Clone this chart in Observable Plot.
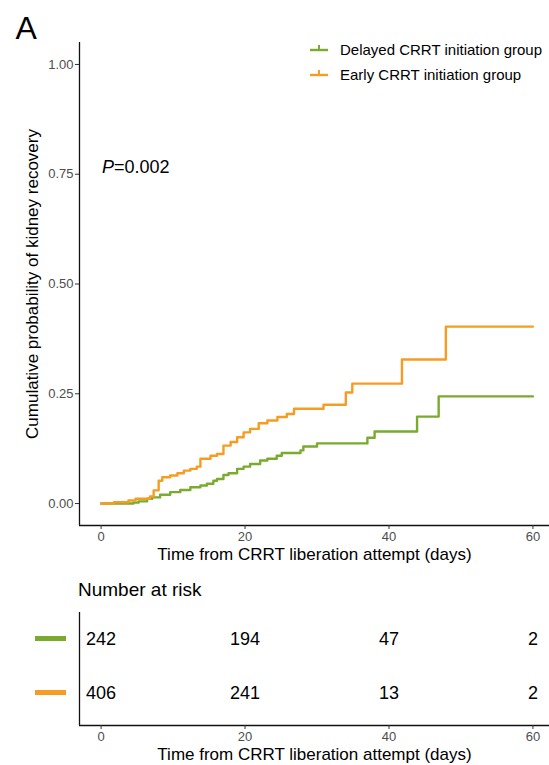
<!DOCTYPE html>
<html><head><meta charset="utf-8">
<script src="https://cdn.jsdelivr.net/npm/d3@7"></script>
<script src="https://cdn.jsdelivr.net/npm/@observablehq/plot@0.6"></script>
<style>
body{margin:0;background:#fff;font-family:"Liberation Sans",Arial,sans-serif;}
#wrap{position:relative;width:549px;height:765px;overflow:hidden;background:#fff;}
.abs{position:absolute;white-space:nowrap;color:#000;}
.leg{display:flex;align-items:center;height:25px;font-size:15px;}
.leg svg{margin-right:11px;}
.strip{position:absolute;width:31px;height:5px;}
</style></head><body><div id="wrap"></div>
<script>
const groups = ["Delayed CRRT initiation group", "Early CRRT initiation group"];
const colors = ["#7aab2f", "#f59d22"];

const delayedTime = [0, 4.5, 5.2, 6.4, 7.1, 8.2, 9.6, 11.0, 12.4, 13.8, 14.7, 15.6, 16.1, 17.0, 17.7, 18.9, 19.8, 20.7, 22.1, 23.1, 24.4, 25.1, 27.7, 28.1, 30.0, 37.0, 38.0, 43.9, 46.9, 60];
const delayedProb = [0, 0.002, 0.005, 0.011, 0.014, 0.020, 0.026, 0.031, 0.037, 0.041, 0.045, 0.052, 0.056, 0.065, 0.069, 0.079, 0.084, 0.090, 0.098, 0.102, 0.109, 0.115, 0.121, 0.130, 0.137, 0.150, 0.164, 0.198, 0.244, 0.244];

const earlyTime = [0, 1.8, 3.8, 4.8, 6.8, 7.3, 8.0, 8.5, 9.6, 10.6, 11.5, 12.4, 13.3, 13.8, 15.2, 16.1, 17.0, 18.0, 18.9, 19.8, 20.7, 21.9, 23.1, 24.5, 25.8, 26.8, 30.9, 34.0, 34.9, 41.8, 47.9, 60];
const earlyProb = [0, 0.003, 0.007, 0.011, 0.016, 0.030, 0.052, 0.060, 0.064, 0.069, 0.075, 0.079, 0.084, 0.102, 0.109, 0.113, 0.132, 0.140, 0.151, 0.162, 0.170, 0.183, 0.189, 0.197, 0.204, 0.216, 0.225, 0.253, 0.273, 0.328, 0.403, 0.403];

const riskTimes = [0, 20, 40, 60];
const riskDelayed = [242, 194, 47, 2];
const riskEarly = [406, 241, 13, 2];

const xTicks = [0, 20, 40, 60];
const yTicks = [0, 0.25, 0.5, 0.75, 1];
const xTitle = "Time from CRRT liberation attempt (days)";
const yTitle = "Cumulative probability of kidney recovery";
const pText = "0.002";

const FONT = '"Liberation Sans", Arial, sans-serif';
const wrap = document.getElementById("wrap");

const curves = [
  ...delayedTime.map((t, i) => ({group: groups[0], t, p: delayedProb[i]})),
  ...earlyTime.map((t, i) => ({group: groups[1], t, p: earlyProb[i]}))
];

const main = Plot.plot({
  width: 549, height: 565,
  marginLeft: 79, marginRight: 0, marginTop: 42, marginBottom: 40,
  style: {fontFamily: FONT, fontSize: "13px", color: "#4d4d4d", background: "transparent", overflow: "visible"},
  x: {domain: [-3, 62.3]},
  y: {domain: [-0.05, 1.05]},
  color: {domain: groups, range: colors},
  marks: [
    Plot.line(curves, {x: "t", y: "p", z: "group", stroke: "group", strokeWidth: 2.4, curve: "step-after"}),
    Plot.ruleX([-3], {stroke: "#111", strokeWidth: 1.3}),
    Plot.ruleY([-0.05], {stroke: "#111", strokeWidth: 1.3}),
    Plot.axisY({ticks: yTicks, tickFormat: d3.format(".2f"), tickSize: 4, tickPadding: 2, label: null, stroke: "#333", fontSize: 13}),
    Plot.axisX({ticks: xTicks, tickSize: 4, tickPadding: 2, label: null, stroke: "#333", fontSize: 13}),
    Plot.text([xTitle], {text: d => d, frameAnchor: "bottom", dy: 29, lineAnchor: "middle", fontSize: 17, fill: "black"}),
    Plot.text([yTitle], {text: d => d, frameAnchor: "left", dx: -47, rotate: -90, textAnchor: "middle", lineAnchor: "middle", fontSize: 17, fill: "black"}),
    Plot.text(["A"], {text: d => d, frameAnchor: "top-left", dx: -64, dy: -4, textAnchor: "start", lineAnchor: "bottom", fontSize: 32, fill: "black"})
  ]
});
main.style.position = "absolute"; main.style.left = "0px"; main.style.top = "0px";
wrap.appendChild(main);

// legend
const leg = document.createElement("div");
leg.className = "abs"; leg.style.left = "309px"; leg.style.top = "37px";
groups.forEach((g, i) => {
  const row = document.createElement("div");
  row.className = "leg";
  row.innerHTML = `<svg width="20" height="12"><line x1="1" x2="19" y1="6" y2="6" stroke="${colors[i]}" stroke-width="2.4"/><line x1="10" x2="10" y1="1" y2="6" stroke="${colors[i]}" stroke-width="2"/></svg><span>${g}</span>`;
  leg.appendChild(row);
});
wrap.appendChild(leg);

// P value
const pv = document.createElement("div");
pv.className = "abs"; pv.style.left = "102px"; pv.style.top = "157px"; pv.style.fontSize = "18px";
pv.innerHTML = `<i>P</i>=${pText}`;
wrap.appendChild(pv);

// Number at risk
const nar = document.createElement("div");
nar.className = "abs"; nar.style.left = "78px"; nar.style.top = "579px"; nar.style.fontSize = "19px";
nar.textContent = "Number at risk";
wrap.appendChild(nar);

const riskRows = [
  ...riskTimes.map((t, i) => ({row: 0, t, n: riskDelayed[i]})),
  ...riskTimes.map((t, i) => ({row: 1, t, n: riskEarly[i]}))
];

const risk = Plot.plot({
  width: 549, height: 165,
  marginLeft: 79, marginRight: 0, marginTop: 12, marginBottom: 40,
  style: {fontFamily: FONT, fontSize: "13px", color: "#4d4d4d", background: "transparent", overflow: "visible"},
  x: {domain: [-3, 62.3]},
  y: {domain: [2.1, 0], axis: null},
  marks: [
    Plot.ruleX([-3], {stroke: "#111", strokeWidth: 1.3}),
    Plot.ruleY([2.1], {stroke: "#111", strokeWidth: 1.3}),
    Plot.axisX({ticks: xTicks, tickSize: 4, tickPadding: 2, label: null, stroke: "#333", fontSize: 13}),
    Plot.text(riskRows, {x: "t", y: d => d.row + 0.5, text: "n", fontSize: 18, fill: "black"}),
    Plot.text([xTitle], {text: d => d, frameAnchor: "bottom", dy: 29, lineAnchor: "middle", fontSize: 17, fill: "black"})
  ]
});
risk.style.position = "absolute"; risk.style.left = "0px"; risk.style.top = "600px";
wrap.appendChild(risk);

// colour strips for the risk table rows (aligned with the rows via the plot's y scale)
const ys = risk.scale("y");
groups.forEach((g, i) => {
  const s = document.createElement("div");
  s.className = "strip";
  s.style.background = colors[i];
  s.style.left = "35px";
  s.style.top = (600 + ys.apply(i + 0.5) - 2.5) + "px";
  wrap.appendChild(s);
});
</script></body></html>
